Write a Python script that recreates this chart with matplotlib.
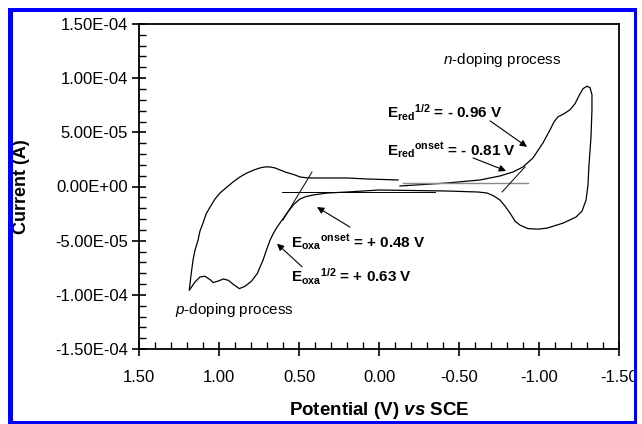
import numpy as np
import matplotlib
matplotlib.use("Agg")
import matplotlib.pyplot as plt
from matplotlib.patches import Rectangle
from matplotlib.ticker import FuncFormatter, MultipleLocator

plt.rcParams["font.family"] = ["Liberation Sans", "DejaVu Sans"]
plt.rcParams["mathtext.fontset"] = "custom"
plt.rcParams["mathtext.rm"] = "Liberation Sans"
plt.rcParams["mathtext.it"] = "Liberation Sans:italic"
plt.rcParams["mathtext.bf"] = "Liberation Sans:bold"
plt.rcParams["mathtext.bfit"] = "Liberation Sans:italic:bold"

# ── Data (potential in V vs SCE, current in µA) ───────────────────────────────
# one continuous CV scan: start near -0.13 V, sweep negative to -1.33 V,
# back through 0 to +1.19 V, then return towards -0.12 V
cv_potential = [
    -0.131, -0.425, -0.631, -0.756, -0.838, -0.90, -0.9625, -1.025, -1.069, -1.094,
    -1.119, -1.156, -1.194, -1.225, -1.25, -1.275, -1.30, -1.319, -1.331, -1.331,
    -1.325, -1.3125, -1.306, -1.294, -1.269, -1.231, -1.15, -1.05, -0.994, -0.931,
    -0.881, -0.85, -0.819, -0.7875, -0.756, -0.719, -0.675, -0.619, -0.425, 0.0,
    0.20, 0.325, 0.4125, 0.456, 0.494, 0.531, 0.575, 0.606, 0.6375, 0.6625,
    0.681, 0.706, 0.725, 0.744, 0.761, 0.796, 0.8375, 0.873, 0.911, 0.942,
    0.973, 1.004, 1.036, 1.056, 1.0875, 1.119, 1.15, 1.186, 1.175, 1.1625,
    1.15, 1.131, 1.119, 1.10, 1.081, 1.056, 1.025, 0.994, 0.95, 0.9125,
    0.869, 0.825, 0.781, 0.744, 0.7125, 0.681, 0.65, 0.619, 0.5875, 0.556,
    0.525, 0.494, 0.456, 0.4125, 0.20, 0.075, -0.119,
]
cv_current_uA = [
    0.46, 3.24, 6.02, 9.72, 13.43, 18.06, 26.39, 40.28, 52.31, 59.72,
    64.35, 67.13, 70.83, 76.39, 83.80, 90.28, 92.59, 91.20, 84.72, 70.83,
    45.83, 19.91, 1.39, -12.50, -22.69, -28.24, -33.80, -38.43, -39.35, -38.89,
    -35.65, -31.94, -24.54, -18.06, -12.50, -8.80, -6.02, -5.09, -4.17, -3.24,
    -5.09, -6.02, -7.87, -9.26, -11.57, -16.20, -24.54, -31.02, -37.50, -43.98,
    -49.54, -59.72, -68.06, -74.54, -80.37, -87.22, -92.13, -94.26, -90.28, -86.57,
    -85.37, -87.22, -88.70, -85.93, -82.87, -83.52, -88.15, -95.83, -81.94, -68.06,
    -58.80, -49.54, -41.20, -33.80, -25.46, -19.0, -11.57, -6.02, -0.46, 4.17,
    8.80, 12.50, 15.28, 17.13, 18.06, 18.06, 17.13, 15.28, 13.43, 12.04,
    10.65, 8.80, 8.06, 7.87, 7.87, 6.94, 6.02,
]

# onset construction lines
oxa_base_V, oxa_base_uA = [0.606, -0.35], [-5.1, -5.1]
oxa_tan_V, oxa_tan_uA = [0.419, 0.60], [13.4, -31.0]
red_base_V, red_base_uA = [-0.15, -0.931], [3.2, 3.2]
red_tan_V, red_tan_uA = [-0.769, -0.9125], [-5.1, 18.1]

# annotations: label, text position, arrow tail, arrow head  (V, µA)
labels = [
    (r"$\mathbf{E}_{\mathbf{red}}{}^{\mathbf{1/2}}$ = - 0.96 V", (-0.05, 63.4), (-0.694, 60.6), (-0.925, 36.6)),
    (r"$\mathbf{E}_{\mathbf{red}}{}^{\mathbf{onset}}$ = - 0.81 V", (-0.05, 29.2), (-0.5875, 26.4), (-0.794, 14.4)),
    (r"$\mathbf{E}_{\mathbf{oxa}}{}^{\mathbf{onset}}$ = + 0.48 V", (0.55, -56.0), (0.181, -37.5), (0.3875, -19.0)),
    (r"$\mathbf{E}_{\mathbf{oxa}}{}^{\mathbf{1/2}}$ = + 0.63 V", (0.55, -88.4), (0.481, -74.1), (0.6375, -52.8)),
]

x_ticks = [1.5, 1.0, 0.5, 0.0, -0.5, -1.0, -1.5]
y_ticks = [1.5e-4, 1.0e-4, 5e-5, 0.0, -5e-5, -1.0e-4, -1.5e-4]

uA = 1e-6

# ── Plot ──────────────────────────────────────────────────────────────────────
fig = plt.figure(figsize=(6.42, 4.24), dpi=100)
ax = fig.add_axes([139 / 642, 1 - 349 / 424, 480 / 642, 325 / 424])

ax.plot(cv_potential, np.array(cv_current_uA) * uA, color="black", lw=0.9)
ax.plot(oxa_base_V, np.array(oxa_base_uA) * uA, color="black", lw=0.7)
ax.plot(oxa_tan_V, np.array(oxa_tan_uA) * uA, color="black", lw=0.7)
ax.plot(red_base_V, np.array(red_base_uA) * uA, color="#8a8a8a", lw=1.0)
ax.plot(red_tan_V, np.array(red_tan_uA) * uA, color="black", lw=0.7)

for text, (tx, ty), (ax0, ay0), (ax1, ay1) in labels:
    ax.text(tx, ty * uA, text, fontsize=11, fontweight="bold", ha="left", va="baseline")
    ax.annotate("", xy=(ax1, ay1 * uA), xytext=(ax0, ay0 * uA),
                arrowprops=dict(arrowstyle="-|>", color="black", lw=0.8,
                                mutation_scale=10, shrinkA=0, shrinkB=0))

ax.text(-0.40, 113.4 * uA, r"$\mathit{n}$-doping process", fontsize=11, va="baseline")
ax.text(1.275, -117.6 * uA, r"$\mathit{p}$-doping process", fontsize=11, va="baseline")

ax.set_xlim(1.5, -1.5)
ax.set_ylim(-1.5e-4, 1.5e-4)
ax.set_xticks(x_ticks)
ax.set_yticks(y_ticks)
ax.xaxis.set_minor_locator(MultipleLocator(0.1))
ax.yaxis.set_minor_locator(MultipleLocator(1e-5))
ax.xaxis.set_major_formatter(FuncFormatter(lambda v, p: f"{v:.2f}"))
ax.yaxis.set_major_formatter(FuncFormatter(lambda v, p: f"{v:.2E}"))

ax.tick_params(which="major", direction="inout", length=10, width=1.2, labelsize=12)
ax.tick_params(which="minor", direction="in", length=5, width=1.0)
ax.tick_params(axis="x", which="major", pad=10)
ax.tick_params(axis="y", which="major", pad=3)
for side in ax.spines.values():
    side.set_linewidth(1.3)

ax.set_ylabel("Current (A)", fontsize=13, fontweight="bold")
ax.yaxis.set_label_coords(-0.244, 0.5)
ax.yaxis.label.set_va("center")
ax.set_xlabel(r"Potential (V) $\mathbfit{vs}$ SCE", fontsize=13.5, fontweight="bold")
ax.xaxis.set_label_coords(0.5, -0.188)
ax.xaxis.label.set_va("center")

# blue frame round the picture
blue = "#0000ff"
for x0, y0, w, h in [(8, 8, 5, 416), (8, 8, 629, 4), (634, 8, 3, 416), (8, 421, 629, 3)]:
    fig.patches.append(Rectangle((x0 / 642, 1 - (y0 + h) / 424), w / 642, h / 424,
                                 transform=fig.transFigure, color=blue, lw=0))

fig.savefig("out.png", dpi=100)
